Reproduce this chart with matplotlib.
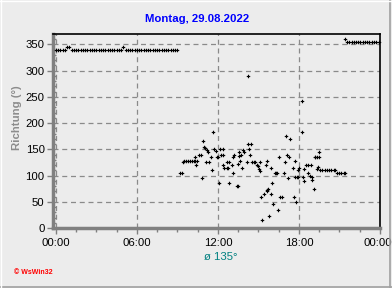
import matplotlib
matplotlib.use("Agg")
import matplotlib.pyplot as plt
from matplotlib.lines import Line2D
from matplotlib.ticker import MultipleLocator, FixedLocator
import matplotlib.transforms as mtransforms

# ---------------- data ----------------
title = "Montag, 29.08.2022"
ylabel = "Richtung (°)"
mean_label = "ø 135°"
credit = "© WsWin32"

x_tick_hours = [0, 6, 12, 18, 24]
x_tick_labels = ["00:00", "06:00", "12:00", "18:00", "00:00"]
y_ticks = [0, 50, 100, 150, 200, 250, 300, 350]

# night segment (minutes of day, direction)
night_minutes = [0, 10, 20, 30, 40, 50, 60, 70, 80, 90, 100, 110, 120, 130, 140,
                 150, 160, 170, 180, 190, 200, 210, 220, 230, 240, 250, 260, 270,
                 280, 290, 300, 310, 320, 330, 340, 350, 360, 370, 380, 390, 400,
                 410, 420, 430, 440, 450, 460, 470, 480, 490, 500, 510, 520, 530, 540]
night_dir = [339, 339, 339, 339, 339, 345, 345, 339, 339, 339, 339, 339, 339, 339, 339,
             339, 339, 339, 339, 339, 339, 339, 339, 339, 339, 339, 339, 339,
             339, 339, 345, 339, 339, 339, 339, 339, 339, 339, 339, 339, 339,
             339, 339, 339, 339, 339, 339, 339, 339, 339, 339, 339, 339, 339, 339]

# day segment (hours, direction)
day_hours = [9.20, 9.33, 9.38, 9.45, 9.60, 9.75, 9.90, 10.05, 10.20, 10.30, 10.32,
             10.42, 10.37, 10.57, 10.74, 10.80, 10.90, 10.96, 11.04, 11.10, 11.21,
             11.24, 11.30, 11.46, 11.58, 11.65, 11.73, 11.83, 11.90, 12.02, 12.10,
             12.15, 12.20, 12.35, 12.40, 12.35, 12.48, 12.65, 12.77, 12.65, 12.85,
             12.84, 13.01, 13.09, 13.13, 13.20, 13.38, 13.45, 13.50, 13.55, 13.52,
             13.65, 13.70, 13.80, 13.86, 13.95, 14.13, 14.20, 14.30, 14.44, 14.40,
             14.25, 14.54, 14.67, 14.74, 14.86, 14.94, 15.04, 15.11, 15.13, 15.20,
             15.28, 15.43, 15.60, 15.65, 15.72, 15.53, 15.62, 15.80, 15.90, 15.95,
             16.02, 16.10, 16.20, 16.30, 16.40, 16.42, 16.54, 16.60, 16.76, 16.90,
             16.96, 17.06, 17.33, 17.13, 17.26, 17.20, 17.58, 17.70, 17.65, 17.78,
             17.70, 17.83, 17.95, 17.90, 18.00, 18.20, 18.25, 18.32, 18.38, 18.39,
             18.49, 18.64, 18.89, 18.64, 18.81, 18.98, 18.93, 19.13, 19.22, 19.33,
             19.30, 19.42, 19.45, 19.20, 19.50,
             19.56, 19.72, 19.89, 20.06, 20.22, 20.39, 20.56, 20.70,
             20.80, 20.97, 21.14, 21.30, 21.40]
day_dir = [104, 104, 125, 128, 128, 128, 128, 128, 128, 128, 135,
           128, 120, 139, 139, 95, 165, 155, 153, 125, 149,
           144, 125, 135, 111, 184, 150, 146, 135, 136, 86,
           151, 139, 150, 139, 120, 115, 114, 114, 125, 125,
           86, 121, 105, 136, 139, 80, 80, 123, 144, 138,
           128, 139, 114, 149, 145, 125, 160, 150, 160, 139,
           290, 125, 125, 125, 120, 118, 112, 109, 125, 59,
           15, 65, 71, 73, 75, 120, 128, 23, 65, 114,
           85, 45, 104, 104, 104, 34, 135, 59, 59, 104,
           125, 176, 170, 139, 135, 95, 114, 128, 59, 49,
           98, 98, 98, 111, 114, 184, 243, 97, 90, 112,
           120, 120, 120, 104, 99, 97, 92, 74, 135, 135,
           113, 117, 144, 135, 135,
           111, 111, 111, 111, 111, 111, 111, 111,
           104, 104, 104, 104, 104]

# evening segment (hours, direction)
eve_hours = [21.40, 21.55, 21.72, 21.89, 22.05, 22.22, 22.39, 22.55, 22.72, 22.89,
             23.05, 23.22, 23.39, 23.55, 23.72, 23.89]
eve_dir = [360, 354, 354, 354, 354, 354, 354, 354, 354, 354,
           354, 354, 354, 354, 354, 354]

# ---------------- plot ----------------
bg = "#ECECEC"
W, H = 392, 288
fig = plt.figure(figsize=(W / 100, H / 100), dpi=100, facecolor=bg)
ax = fig.add_axes([53 / W, (H - 228) / H, (380 - 53) / W, (228 - 34) / H], facecolor=bg)

night_hours = [m / 60 for m in night_minutes]
mk = dict(linestyle="none", marker="P", markersize=2.5, color="black",
          markeredgewidth=0, zorder=3, clip_on=False)
ax.plot(night_hours, night_dir, **mk)
ax.plot(day_hours, day_dir, **mk)
ax.plot(eve_hours, eve_dir, **mk)

ax.set_xlim(-0.22, 24)
ax.set_ylim(0, 370)

ax.xaxis.set_major_locator(FixedLocator(x_tick_hours))
ax.set_xticklabels(x_tick_labels)
ax.xaxis.set_minor_locator(MultipleLocator(1.5))
ax.yaxis.set_major_locator(FixedLocator(y_ticks))
ax.yaxis.set_minor_locator(MultipleLocator(10))

ax.grid(True, which="major", color="#8A8A8A", linestyle=(0, (4, 3)), linewidth=0.9)
ax.set_axisbelow(True)

for s in ("top", "right"):
    ax.spines[s].set_color("black")
    ax.spines[s].set_linewidth(1.2)
for s in ("left", "bottom"):
    ax.spines[s].set_color("#808080")
    ax.spines[s].set_linewidth(2.5)

ax.tick_params(axis="both", which="major", colors="#808080", length=4, width=1,
               labelcolor="black", labelsize=8.2)
ax.tick_params(axis="y", which="major", pad=2)
ax.tick_params(axis="x", which="major", pad=3)
ax.tick_params(axis="y", which="minor", direction="in", length=2, width=1, colors="#808080")
ax.tick_params(axis="x", which="minor", direction="out", length=3, width=1, colors="#808080")
for lbl in ax.get_xticklabels() + ax.get_yticklabels():
    lbl.set_fontfamily("Liberation Sans")
# keep the last label inside the figure
last = ax.get_xticklabels()[-1]
last.set_transform(last.get_transform() + mtransforms.ScaledTranslation(-2.5 / 100, 0, fig.dpi_scale_trans))

fig.text(197 / W, 1 - 19 / H, title, ha="center", va="center", color="#0000FF",
         fontsize=8.2, fontweight="bold", family="Liberation Sans")
fig.text(17 / W, 1 - 118 / H, ylabel, ha="center", va="center", rotation=90,
         color="#8C8C8C", fontsize=8.2, fontweight="bold", family="Liberation Sans")
fig.text(221 / W, 1 - 257 / H, mean_label, ha="center", va="center", color="#008080",
         fontsize=8.2, family="Liberation Sans")
fig.text(14 / W, 1 - 272 / H, credit, ha="left", va="center", color="#FF0000",
         fontsize=5, fontweight="bold", family="Liberation Sans")

# figure frame
fig.add_artist(Line2D([389.5 / W, 389.5 / W], [0, 1], color="#A0A0A0", lw=1.2))
fig.add_artist(Line2D([0, 1], [1.5 / H, 1.5 / H], color="#A0A0A0", lw=1.2))
fig.add_artist(Line2D([0.5 / W, 0.5 / W], [0, 1], color="white", lw=1))
fig.add_artist(Line2D([0, 1], [1 - 0.5 / H, 1 - 0.5 / H], color="white", lw=1))

fig.savefig("out.png", dpi=100, facecolor=bg)
